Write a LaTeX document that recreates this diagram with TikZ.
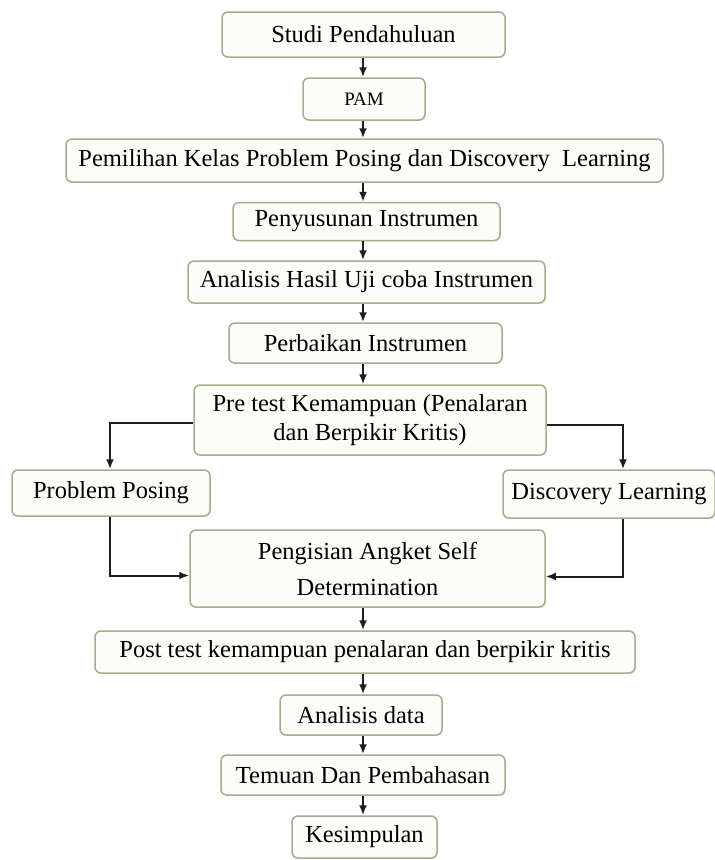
\documentclass[tikz,border=0pt]{standalone}
\usepackage{fontspec}
\setmainfont{Liberation Serif}
\usetikzlibrary{arrows.meta,shadows}
\definecolor{boxline}{HTML}{9EB08E}
\definecolor{boxfill}{HTML}{FCFDF9}
\definecolor{arrcol}{HTML}{1E1E1E}
\begin{document}
\begin{tikzpicture}[x=1pt,y=-1pt,
  stepbox/.style={draw=boxline, fill=boxfill, line width=1.5pt, rounded corners=6pt,
    inner sep=0pt, align=center, font=\fontsize{24.5}{29}\selectfont,
    drop shadow={opacity=0.15, shadow xshift=1pt, shadow yshift=-1pt}},
  arr/.style={draw=arrcol, line width=2pt, -{Latex[length=10pt,width=8pt]}}]
\useasboundingbox[fill=white] (0,0) rectangle (715,860);
\coordinate (mid) at (363,0);
\node[stepbox, minimum width=283pt, minimum height=45pt] (studi) at (363.5,34.5) {Studi Pendahuluan};
\node[stepbox, minimum width=122pt, minimum height=42pt, font=\fontsize{19}{23}\selectfont] (pam) at (364,99) {PAM};
\node[stepbox, minimum width=597pt, minimum height=43pt] (pem) at (364.5,160.5) {Pemilihan Kelas Problem Posing dan Discovery\ \ Learning};
\node[stepbox, minimum width=267pt, minimum height=38pt] (peny) at (366.5,221.5) {Penyusunan Instrumen};
\node[stepbox, minimum width=357pt, minimum height=42pt] (anh) at (366.5,282) {Analisis Hasil Uji coba Instrumen};
\node[stepbox, minimum width=273pt, minimum height=40pt] (perb) at (365.5,343) {Perbaikan Instrumen};
\node[stepbox, minimum width=352pt, minimum height=70pt] (pre) at (370,420) {Pre test Kemampuan (Penalaran\\dan Berpikir Kritis)};
\node[stepbox, minimum width=198pt, minimum height=46pt] (pp) at (111,493) {Problem Posing};
\node[stepbox, minimum width=212pt, minimum height=48pt] (dl) at (609,494) {Discovery Learning};
\node[stepbox, minimum width=355pt, minimum height=77pt] (peng) at (367.5,568.5) {Pengisian Angket Self\\[7pt]Determination};
\node[stepbox, minimum width=540pt, minimum height=42pt] (post) at (365,652) {Post test kemampuan penalaran dan berpikir kritis};
\node[stepbox, minimum width=162pt, minimum height=40pt] (ad) at (361,715) {Analisis data};
\node[stepbox, minimum width=284pt, minimum height=40pt] (tem) at (363,775) {Temuan Dan Pembahasan};
\node[stepbox, minimum width=145pt, minimum height=42pt] (kes) at (364.5,837) {Kesimpulan};

\draw[arr] (studi.south -| mid) -- (pam.north -| mid);
\draw[arr] (pam.south -| mid) -- (pem.north -| mid);
\draw[arr] (pem.south -| mid) -- (peny.north -| mid);
\draw[arr] (peny.south -| mid) -- (anh.north -| mid);
\draw[arr] (anh.south -| mid) -- (perb.north -| mid);
\draw[arr] (perb.south -| mid) -- (pre.north -| mid);
\draw[arr] (peng.south -| mid) -- (post.north -| mid);
\draw[arr] (post.south -| mid) -- (ad.north -| mid);
\draw[arr] (ad.south -| mid) -- (tem.north -| mid);
\draw[arr] (tem.south -| mid) -- (kes.north -| mid);

\draw[arr] ([yshift=-3pt]pre.west) -| ([xshift=-1pt]pp.north);
\draw[arr] ([yshift=-5pt]pre.east) -| ([xshift=14pt]dl.north);
\draw[arr] ([xshift=-1pt]pp.south) |- ([yshift=-7pt]peng.west);
\draw[arr] ([xshift=14pt]dl.south) |- ([yshift=-8pt]peng.east);
\end{tikzpicture}
\end{document}
